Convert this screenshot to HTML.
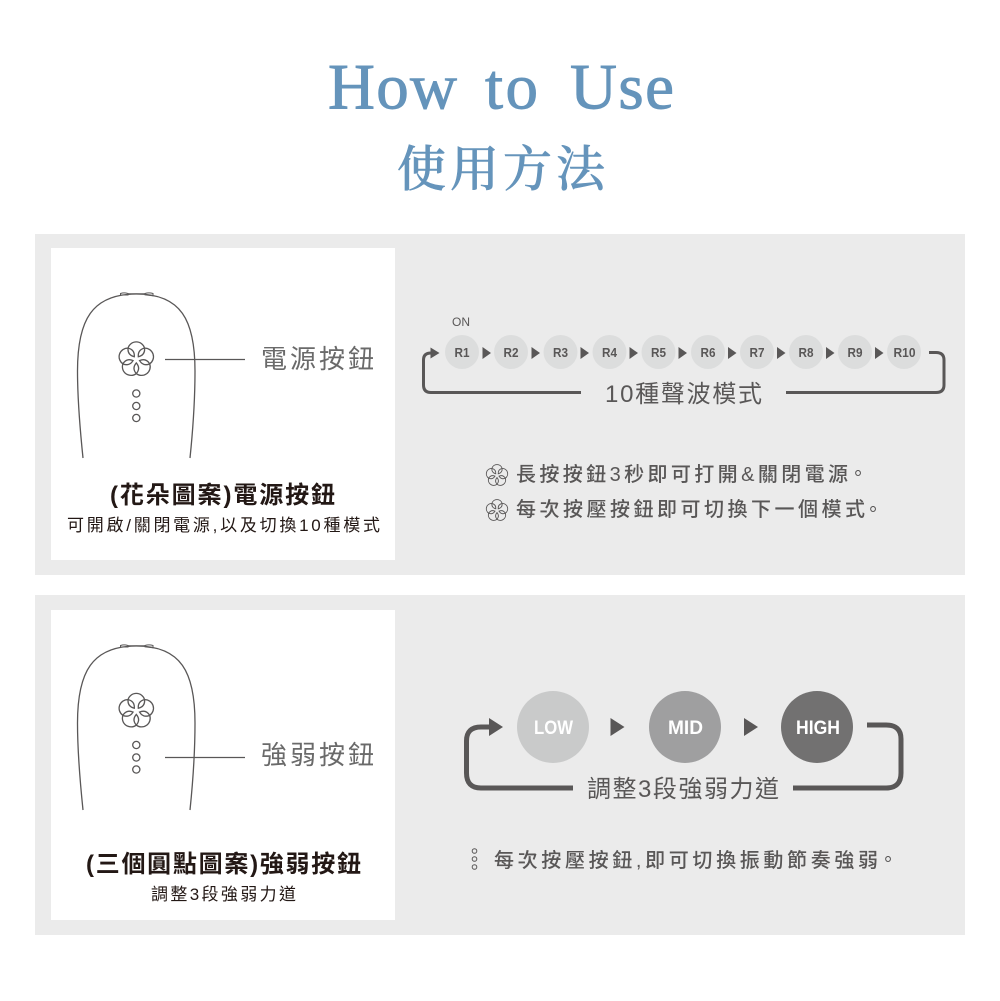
<!DOCTYPE html>
<html><head><meta charset="utf-8"><style>
html,body{margin:0;padding:0;background:#fff}
svg{display:block}
text{font-family:"Liberation Sans","Noto Sans CJK TC",sans-serif;fill:#595757}
.t{font-family:'Liberation Serif',serif;font-size:65px;fill:#6594bb;stroke:#6594bb;stroke-width:.9px}
</style></head><body>
<svg width="1000" height="1001" viewBox="0 0 1000 1001" xmlns="http://www.w3.org/2000/svg">
<defs>
<g id="fl" fill="none" stroke="#595757">
<g><path d="M-8.270 -11.380A8.600 8.600 0 0 1 8.270 -11.380"/></g>
<g transform="rotate(72)"><path d="M-8.270 -11.380A8.600 8.600 0 0 1 8.270 -11.380"/></g>
<g transform="rotate(144)"><path d="M-8.270 -11.380A8.600 8.600 0 0 1 8.270 -11.380"/></g>
<g transform="rotate(216)"><path d="M-8.270 -11.380A8.600 8.600 0 0 1 8.270 -11.380"/></g>
<g transform="rotate(288)"><path d="M-8.270 -11.380A8.600 8.600 0 0 1 8.270 -11.380"/></g>
<g transform="rotate(36)"><path d="M0 -14.060Q4.600 -8.800 0 -3.400Q-4.600 -8.800 0 -14.060Z"/></g>
<g transform="rotate(108)"><path d="M0 -14.060Q4.600 -8.800 0 -3.400Q-4.600 -8.800 0 -14.060Z"/></g>
<g transform="rotate(180)"><path d="M0 -14.060Q4.600 -8.800 0 -3.400Q-4.600 -8.800 0 -14.060Z"/></g>
<g transform="rotate(252)"><path d="M0 -14.060Q4.600 -8.800 0 -3.400Q-4.600 -8.800 0 -14.060Z"/></g>
<g transform="rotate(324)"><path d="M0 -14.060Q4.600 -8.800 0 -3.400Q-4.600 -8.800 0 -14.060Z"/></g>
</g>
<g id="body" fill="none" stroke="#595757" stroke-width="1.300">
<path d="M83 164C80 135 77.500 105 77.500 77C77.500 26 92 0 136.300 0C181 0 195 26 195 77C195 105 193 135 190 164"/>
<path d="M120.500 -0.500Q124 -1.800 128 -0.500V1H120.500ZM145 -0.500Q149 -1.800 153 -0.500V1.800L145 0.800ZM128 -0.300H145" stroke-width="1"/>
</g>
</defs>
<rect width="1000" height="1001" fill="#fff"/>
<text class="t" x="328" y="108.500" textLength="129" lengthAdjust="spacing">How</text>
<text class="t" x="485" y="108.500" textLength="53" lengthAdjust="spacing">to</text>
<text class="t" x="570" y="108.500" textLength="104" lengthAdjust="spacing">Use</text>
<text x="397" y="186" textLength="208" lengthAdjust="spacing" style="font-family:'Liberation Serif','Noto Serif CJK SC',serif;font-size:49px;font-weight:500;fill:#6594bb;stroke:#6594bb;stroke-width:.6px">使用方法</text>

<rect x="35" y="234" width="930" height="341" fill="#ebebeb"/>
<rect x="35" y="595" width="930" height="340" fill="#ebebeb"/>
<rect x="51" y="248" width="344" height="312" fill="#fff"/>
<rect x="51" y="610" width="344" height="310" fill="#fff"/>

<!-- Panel 1 left -->
<use href="#body" x="0" y="294"/>
<use href="#fl" x="136.300" y="359.500" stroke-width="1.300"/>
<g fill="none" stroke="#595757" stroke-width="1.300"><circle cx="136.300" cy="393.500" r="3.600"/><circle cx="136.300" cy="406" r="3.600"/><circle cx="136.300" cy="418" r="3.600"/></g>
<path d="M165 359.500H245" stroke="#595757" stroke-width="1.300"/>
<text x="261" y="368" textLength="113" lengthAdjust="spacing" style="font-size:26px;font-weight:400;fill:#6a6a6a">電源按鈕</text>
<text x="110" y="503" textLength="225" lengthAdjust="spacing" style="font-size:24px;font-weight:700;fill:#231815">(花朵圖案)電源按鈕</text>
<text x="67" y="531" textLength="313" lengthAdjust="spacing" style="font-size:17px;fill:#231815">可開啟/關閉電源,以及切換10種模式</text>

<!-- Panel 1 right -->
<text x="452" y="326" style="font-size:12px;fill:#595757">ON</text>
<g fill="#dcdddd">
<circle cx="462" cy="352" r="17"/><circle cx="511" cy="352" r="17"/><circle cx="560.500" cy="352" r="17"/><circle cx="609.500" cy="352" r="17"/><circle cx="658.500" cy="352" r="17"/><circle cx="708" cy="352" r="17"/><circle cx="757" cy="352" r="17"/><circle cx="806" cy="352" r="17"/><circle cx="855" cy="352" r="17"/><circle cx="904" cy="352" r="17"/>
</g>
<g text-anchor="middle" style="font-size:13px;font-weight:700">
<text x="462" y="357" textLength="15" lengthAdjust="spacingAndGlyphs">R1</text><text x="511" y="357" textLength="15" lengthAdjust="spacingAndGlyphs">R2</text><text x="560.500" y="357" textLength="15" lengthAdjust="spacingAndGlyphs">R3</text><text x="609.500" y="357" textLength="15" lengthAdjust="spacingAndGlyphs">R4</text><text x="658.500" y="357" textLength="15" lengthAdjust="spacingAndGlyphs">R5</text><text x="708" y="357" textLength="15" lengthAdjust="spacingAndGlyphs">R6</text><text x="757" y="357" textLength="15" lengthAdjust="spacingAndGlyphs">R7</text><text x="806" y="357" textLength="15" lengthAdjust="spacingAndGlyphs">R8</text><text x="855" y="357" textLength="15" lengthAdjust="spacingAndGlyphs">R9</text><text x="904.500" y="357" textLength="22" lengthAdjust="spacingAndGlyphs">R10</text>
</g>
<g fill="#595757">
<path d="M482.500 347L491 353L482.500 359Z"/><path d="M531.500 347L540 353L531.500 359Z"/><path d="M580.500 347L589 353L580.500 359Z"/><path d="M629.500 347L638 353L629.500 359Z"/><path d="M678.500 347L687 353L678.500 359Z"/><path d="M728 347L736.500 353L728 359Z"/><path d="M777 347L785.500 353L777 359Z"/><path d="M826 347L834.500 353L826 359Z"/><path d="M875 347L883.500 353L875 359Z"/>
<path d="M430.500 347.500L439.500 353L430.500 358.500Z"/>
</g>
<g fill="none" stroke="#595757" stroke-width="3">
<path d="M581 392.500H431Q423.500 392.500 423.500 385V360Q423.500 353 431 353H433"/>
<path d="M786 392.500H936Q944 392.500 944 385V360Q944 352.500 936 352.500H929"/>
</g>
<text x="605" y="402" textLength="157" lengthAdjust="spacing" style="font-size:24px;fill:#595757">10種聲波模式</text>
<use href="#fl" transform="translate(497 475.500) scale(0.62)" stroke-width="1.500"/>
<use href="#fl" transform="translate(497 510.500) scale(0.62)" stroke-width="1.500"/>
<text x="516" y="481" textLength="332" lengthAdjust="spacing" style="font-size:20px;font-weight:500;fill:#595757">長按按鈕3秒即可打開&amp;關閉電源</text>
<text x="858" y="480" text-anchor="middle" style="font-size:19px">。</text>
<text x="516" y="516" textLength="349" lengthAdjust="spacing" style="font-size:20px;font-weight:500;fill:#595757">每次按壓按鈕即可切換下一個模式</text>
<text x="873" y="516" text-anchor="middle" style="font-size:19px">。</text>

<!-- Panel 2 left -->
<use href="#body" x="0" y="646"/>
<use href="#fl" x="136.300" y="711" stroke-width="1.300"/>
<g fill="none" stroke="#595757" stroke-width="1.300"><circle cx="136.300" cy="745" r="3.600"/><circle cx="136.300" cy="757.500" r="3.600"/><circle cx="136.300" cy="769.500" r="3.600"/></g>
<path d="M165 757.500H245" stroke="#595757" stroke-width="1.300"/>
<text x="261" y="764" textLength="113" lengthAdjust="spacing" style="font-size:26px;font-weight:400;fill:#6a6a6a">強弱按鈕</text>
<text x="86" y="872" textLength="275" lengthAdjust="spacing" style="font-size:24px;font-weight:700;fill:#231815">(三個圓點圖案)強弱按鈕</text>
<text x="151" y="900" textLength="145" lengthAdjust="spacing" style="font-size:17px;fill:#231815">調整3段強弱力道</text>

<!-- Panel 2 right -->
<circle cx="553" cy="727" r="36" fill="#c9caca"/>
<circle cx="685" cy="727" r="36" fill="#9f9fa0"/>
<circle cx="817" cy="727" r="36" fill="#727171"/>
<g text-anchor="middle" style="font-size:19px;font-weight:700">
<text x="553.500" y="734" style="fill:#fff" textLength="39" lengthAdjust="spacingAndGlyphs">LOW</text>
<text x="685.500" y="734" style="fill:#fff" textLength="35" lengthAdjust="spacingAndGlyphs">MID</text>
<text x="818" y="734" style="fill:#fff" textLength="44" lengthAdjust="spacingAndGlyphs">HIGH</text>
</g>
<g fill="#595757">
<path d="M610.500 718L624.500 727L610.500 736Z"/><path d="M744 718L758 727L744 736Z"/><path d="M489 718L503 727L489 736Z"/>
</g>
<g fill="none" stroke="#595757" stroke-width="5">
<path d="M573 788H481Q466.500 788 466.500 773V741Q466.500 727 481 727H492"/>
<path d="M793 788H886Q901 788 901 773V739Q901 725 886 725H867"/>
</g>
<text x="587" y="797" textLength="192" lengthAdjust="spacing" style="font-size:24px;fill:#595757">調整3段強弱力道</text>
<g fill="none" stroke="#595757" stroke-width="1"><circle cx="474.500" cy="851" r="2.300"/><circle cx="474.500" cy="859" r="2.300"/><circle cx="474.500" cy="867" r="2.300"/></g>
<text x="494" y="867" textLength="384" lengthAdjust="spacing" style="font-size:20px;font-weight:500;fill:#595757">每次按壓按鈕,即可切換振動節奏強弱</text>
<text x="888" y="866" text-anchor="middle" style="font-size:19px">。</text>
</svg>
</body></html>
